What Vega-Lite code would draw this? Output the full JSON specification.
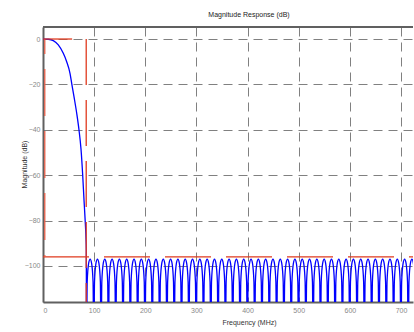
{
  "$schema": "https://vega.github.io/schema/vega-lite/v6.json",
  "width": 370,
  "height": 275,
  "autosize": {"type": "none"},
  "padding": {"left": 43, "top": 27, "right": 1, "bottom": 30},
  "background": "white",
  "title": {"text": "Magnitude Response (dB)", "anchor": "middle", "dx": 21, "offset": 8, "fontSize": 7, "font": "Liberation Sans", "fontWeight": "normal", "color": "#222222"},
  "config": {
    "view": {"stroke": null},
    "font": "Liberation Sans",
    "title": {"color": "#222222"},
    "axis": {"labelFont": "Liberation Sans", "titleFont": "Liberation Sans", "labelFontSize": 7, "titleFontSize": 7, "titleFontWeight": "normal", "labelColor": "#888888", "titleColor": "#333333", "domainColor": "#606060", "domainWidth": 2, "ticks": false, "gridColor": "#808080", "gridDash": [9, 6], "gridWidth": 1, "gridOpacity": 1}
  },
  "datasets": {
    "resp": [
      {"f":0,"db":0},{"f":10.4,"db":-0.1},{"f":20.1,"db":-0.7},{"f":29.9,"db":-2.6},{"f":39.7,"db":-6.3},{"f":46.3,"db":-10},{"f":52.8,"db":-15.1},{"f":56.1,"db":-19.5},{"f":60.6,"db":-25.4},{"f":65.9,"db":-32.7},{"f":70.4,"db":-40.1},{"f":74.3,"db":-48.5},{"f":77.6,"db":-59.9},{"f":80.2,"db":-71},{"f":82.7,"db":-81},{"f":84.1,"db":-88},{"f":84.7,"db":-93},
      {"f":85,"db":-140},{"f":86.4,"db":-107.2},{"f":89.3,"db":-98.8},{"f":92.2,"db":-97},{"f":95,"db":-98.8},{"f":97.9,"db":-107.2},
      {"f":99.3,"db":-140},{"f":100.7,"db":-107.2},{"f":103.6,"db":-98.8},{"f":106.5,"db":-97},{"f":109.3,"db":-98.8},{"f":112.2,"db":-107.2},
      {"f":113.6,"db":-140},{"f":115,"db":-107.2},{"f":117.9,"db":-98.8},{"f":120.8,"db":-97},{"f":123.6,"db":-98.8},{"f":126.5,"db":-107.2},
      {"f":127.9,"db":-140},{"f":129.3,"db":-107.2},{"f":132.2,"db":-98.8},{"f":135.1,"db":-97},{"f":137.9,"db":-98.8},{"f":140.8,"db":-107.2},
      {"f":142.2,"db":-140},{"f":143.6,"db":-107.2},{"f":146.5,"db":-98.8},{"f":149.4,"db":-97},{"f":152.2,"db":-98.8},{"f":155.1,"db":-107.2},
      {"f":156.5,"db":-140},{"f":157.9,"db":-107.2},{"f":160.8,"db":-98.8},{"f":163.7,"db":-97},{"f":166.5,"db":-98.8},{"f":169.4,"db":-107.2},
      {"f":170.8,"db":-140},{"f":172.2,"db":-107.2},{"f":175.1,"db":-98.8},{"f":178,"db":-97},{"f":180.8,"db":-98.8},{"f":183.7,"db":-107.2},
      {"f":185.1,"db":-140},{"f":186.5,"db":-107.2},{"f":189.4,"db":-98.8},{"f":192.3,"db":-97},{"f":195.1,"db":-98.8},{"f":198,"db":-107.2},
      {"f":199.4,"db":-140},{"f":200.8,"db":-107.2},{"f":203.7,"db":-98.8},{"f":206.6,"db":-97},{"f":209.4,"db":-98.8},{"f":212.3,"db":-107.2},
      {"f":213.7,"db":-140},{"f":215.1,"db":-107.2},{"f":218,"db":-98.8},{"f":220.9,"db":-97},{"f":223.7,"db":-98.8},{"f":226.6,"db":-107.2},
      {"f":228,"db":-140},{"f":229.4,"db":-107.2},{"f":232.3,"db":-98.8},{"f":235.2,"db":-97},{"f":238,"db":-98.8},{"f":240.9,"db":-107.2},
      {"f":242.3,"db":-140},{"f":243.7,"db":-107.2},{"f":246.6,"db":-98.8},{"f":249.5,"db":-97},{"f":252.3,"db":-98.8},{"f":255.2,"db":-107.2},
      {"f":256.6,"db":-140},{"f":258,"db":-107.2},{"f":260.9,"db":-98.8},{"f":263.8,"db":-97},{"f":266.6,"db":-98.8},{"f":269.5,"db":-107.2},
      {"f":270.9,"db":-140},{"f":272.3,"db":-107.2},{"f":275.2,"db":-98.8},{"f":278.1,"db":-97},{"f":280.9,"db":-98.8},{"f":283.8,"db":-107.2},
      {"f":285.2,"db":-140},{"f":286.6,"db":-107.2},{"f":289.5,"db":-98.8},{"f":292.4,"db":-97},{"f":295.2,"db":-98.8},{"f":298.1,"db":-107.2},
      {"f":299.5,"db":-140},{"f":300.9,"db":-107.2},{"f":303.8,"db":-98.8},{"f":306.7,"db":-97},{"f":309.5,"db":-98.8},{"f":312.4,"db":-107.2},
      {"f":313.8,"db":-140},{"f":315.2,"db":-107.2},{"f":318.1,"db":-98.8},{"f":321,"db":-97},{"f":323.8,"db":-98.8},{"f":326.7,"db":-107.2},
      {"f":328.1,"db":-140},{"f":329.5,"db":-107.2},{"f":332.4,"db":-98.8},{"f":335.3,"db":-97},{"f":338.1,"db":-98.8},{"f":341,"db":-107.2},
      {"f":342.4,"db":-140},{"f":343.8,"db":-107.2},{"f":346.7,"db":-98.8},{"f":349.6,"db":-97},{"f":352.4,"db":-98.8},{"f":355.3,"db":-107.2},
      {"f":356.7,"db":-140},{"f":358.1,"db":-107.2},{"f":361,"db":-98.8},{"f":363.9,"db":-97},{"f":366.7,"db":-98.8},{"f":369.6,"db":-107.2},
      {"f":371,"db":-140},{"f":372.4,"db":-107.2},{"f":375.3,"db":-98.8},{"f":378.2,"db":-97},{"f":381,"db":-98.8},{"f":383.9,"db":-107.2},
      {"f":385.3,"db":-140},{"f":386.7,"db":-107.2},{"f":389.6,"db":-98.8},{"f":392.5,"db":-97},{"f":395.3,"db":-98.8},{"f":398.2,"db":-107.2},
      {"f":399.6,"db":-140},{"f":401,"db":-107.2},{"f":403.9,"db":-98.8},{"f":406.8,"db":-97},{"f":409.6,"db":-98.8},{"f":412.5,"db":-107.2},
      {"f":413.9,"db":-140},{"f":415.3,"db":-107.2},{"f":418.2,"db":-98.8},{"f":421.1,"db":-97},{"f":423.9,"db":-98.8},{"f":426.8,"db":-107.2},
      {"f":428.2,"db":-140},{"f":429.6,"db":-107.2},{"f":432.5,"db":-98.8},{"f":435.4,"db":-97},{"f":438.2,"db":-98.8},{"f":441.1,"db":-107.2},
      {"f":442.5,"db":-140},{"f":443.9,"db":-107.2},{"f":446.8,"db":-98.8},{"f":449.7,"db":-97},{"f":452.5,"db":-98.8},{"f":455.4,"db":-107.2},
      {"f":456.8,"db":-140},{"f":458.2,"db":-107.2},{"f":461.1,"db":-98.8},{"f":464,"db":-97},{"f":466.8,"db":-98.8},{"f":469.7,"db":-107.2},
      {"f":471.1,"db":-140},{"f":472.5,"db":-107.2},{"f":475.4,"db":-98.8},{"f":478.3,"db":-97},{"f":481.1,"db":-98.8},{"f":484,"db":-107.2},
      {"f":485.4,"db":-140},{"f":486.8,"db":-107.2},{"f":489.7,"db":-98.8},{"f":492.6,"db":-97},{"f":495.4,"db":-98.8},{"f":498.3,"db":-107.2},
      {"f":499.7,"db":-140},{"f":501.1,"db":-107.2},{"f":504,"db":-98.8},{"f":506.9,"db":-97},{"f":509.7,"db":-98.8},{"f":512.6,"db":-107.2},
      {"f":514,"db":-140},{"f":515.4,"db":-107.2},{"f":518.3,"db":-98.8},{"f":521.2,"db":-97},{"f":524,"db":-98.8},{"f":526.9,"db":-107.2},
      {"f":528.3,"db":-140},{"f":529.7,"db":-107.2},{"f":532.6,"db":-98.8},{"f":535.5,"db":-97},{"f":538.3,"db":-98.8},{"f":541.2,"db":-107.2},
      {"f":542.6,"db":-140},{"f":544,"db":-107.2},{"f":546.9,"db":-98.8},{"f":549.8,"db":-97},{"f":552.6,"db":-98.8},{"f":555.5,"db":-107.2},
      {"f":556.9,"db":-140},{"f":558.3,"db":-107.2},{"f":561.2,"db":-98.8},{"f":564.1,"db":-97},{"f":566.9,"db":-98.8},{"f":569.8,"db":-107.2},
      {"f":571.2,"db":-140},{"f":572.6,"db":-107.2},{"f":575.5,"db":-98.8},{"f":578.4,"db":-97},{"f":581.2,"db":-98.8},{"f":584.1,"db":-107.2},
      {"f":585.5,"db":-140},{"f":586.9,"db":-107.2},{"f":589.8,"db":-98.8},{"f":592.7,"db":-97},{"f":595.5,"db":-98.8},{"f":598.4,"db":-107.2},
      {"f":599.8,"db":-140},{"f":601.2,"db":-107.2},{"f":604.1,"db":-98.8},{"f":607,"db":-97},{"f":609.8,"db":-98.8},{"f":612.7,"db":-107.2},
      {"f":614.1,"db":-140},{"f":615.5,"db":-107.2},{"f":618.4,"db":-98.8},{"f":621.3,"db":-97},{"f":624.1,"db":-98.8},{"f":627,"db":-107.2},
      {"f":628.4,"db":-140},{"f":629.8,"db":-107.2},{"f":632.7,"db":-98.8},{"f":635.6,"db":-97},{"f":638.4,"db":-98.8},{"f":641.3,"db":-107.2},
      {"f":642.7,"db":-140},{"f":644.1,"db":-107.2},{"f":647,"db":-98.8},{"f":649.9,"db":-97},{"f":652.7,"db":-98.8},{"f":655.6,"db":-107.2},
      {"f":657,"db":-140},{"f":658.4,"db":-107.2},{"f":661.3,"db":-98.8},{"f":664.2,"db":-97},{"f":667,"db":-98.8},{"f":669.9,"db":-107.2},
      {"f":671.3,"db":-140},{"f":672.7,"db":-107.2},{"f":675.6,"db":-98.8},{"f":678.5,"db":-97},{"f":681.3,"db":-98.8},{"f":684.2,"db":-107.2},
      {"f":685.6,"db":-140},{"f":687,"db":-107.2},{"f":689.9,"db":-98.8},{"f":692.8,"db":-97},{"f":695.6,"db":-98.8},{"f":698.5,"db":-107.2},
      {"f":699.9,"db":-140},{"f":701.3,"db":-107.2},{"f":704.2,"db":-98.8},{"f":707.1,"db":-97},{"f":709.9,"db":-98.8},{"f":712.8,"db":-107.2},
      {"f":714.2,"db":-140},{"f":715.6,"db":-107.2},{"f":718.5,"db":-98.8},{"f":721.4,"db":-97},{"f":724.2,"db":-98.8},{"f":727.1,"db":-107.2},
      {"f":728.5,"db":-140}
    ]
  },
  "layer": [
    {
      "data": {"name": "resp"},
      "mark": {"type": "line", "color": "#0000ff", "strokeWidth": 1.3, "clip": true, "interpolate": "monotone"},
      "encoding": {
        "x": {"field": "f", "type": "quantitative", "scale": {"domain": [0, 723.5], "nice": false, "zero": false},
          "axis": {"title": "Frequency (MHz)", "values": [0,100,200,300,400,500,600,700], "labelPadding": 4, "titleX": 206, "titleY": 20, "titleBaseline": "middle", "titleAlign": "center", "grid": true}},
        "y": {"field": "db", "type": "quantitative", "scale": {"domain": [-115.9, 5.3], "nice": false, "zero": false},
          "axis": {"title": "Magnitude (dB)", "values": [0,-20,-40,-60,-80,-100], "labelPadding": 3, "titleX": -19, "titleY": 137, "titleBaseline": "middle", "titleAlign": "center", "titleAngle": -90, "grid": true}},
        "order": {"field": "f", "type": "quantitative"}
      }
    },
    {
      "data": {"values": [{"xa": 0, "xb": 723.5, "y": -96}]},
      "mark": {"type": "rule", "color": "#e03a1e", "strokeWidth": 1.3, "strokeDash": [46, 15], "clip": true},
      "encoding": {"x": {"field": "xa", "type": "quantitative"}, "x2": {"field": "xb"}, "y": {"field": "y", "type": "quantitative"}}
    },
    {
      "data": {"values": [{"x": 84.5, "ya": 0, "yb": -115.9}]},
      "mark": {"type": "rule", "color": "#e03a1e", "strokeWidth": 1.3, "strokeDash": [46, 15], "clip": true},
      "encoding": {"x": {"field": "x", "type": "quantitative"}, "y": {"field": "ya", "type": "quantitative"}, "y2": {"field": "yb"}}
    },
    {
      "data": {"values": [{"x": 3.5, "ya": 0, "yb": -96}]},
      "mark": {"type": "rule", "color": "#e8604a", "strokeWidth": 1.3, "strokeDash": [47, 15], "strokeDashOffset": 32, "clip": true},
      "encoding": {"x": {"field": "x", "type": "quantitative"}, "y": {"field": "ya", "type": "quantitative"}, "y2": {"field": "yb"}}
    },
    {
      "data": {"values": [{"xa": 0, "xb": 57, "y": 0}]},
      "mark": {"type": "rule", "color": "#e03a1e", "strokeWidth": 1.3, "clip": true},
      "encoding": {"x": {"field": "xa", "type": "quantitative"}, "x2": {"field": "xb"}, "y": {"field": "y", "type": "quantitative"}}
    },
    {
      "data": {"values": [{"xa": 0, "xb": 723.5, "y": 5.3}]},
      "mark": {"type": "rule", "color": "#606060", "strokeWidth": 2},
      "encoding": {"x": {"field": "xa", "type": "quantitative"}, "x2": {"field": "xb"}, "y": {"field": "y", "type": "quantitative"}}
    }
  ]
}
